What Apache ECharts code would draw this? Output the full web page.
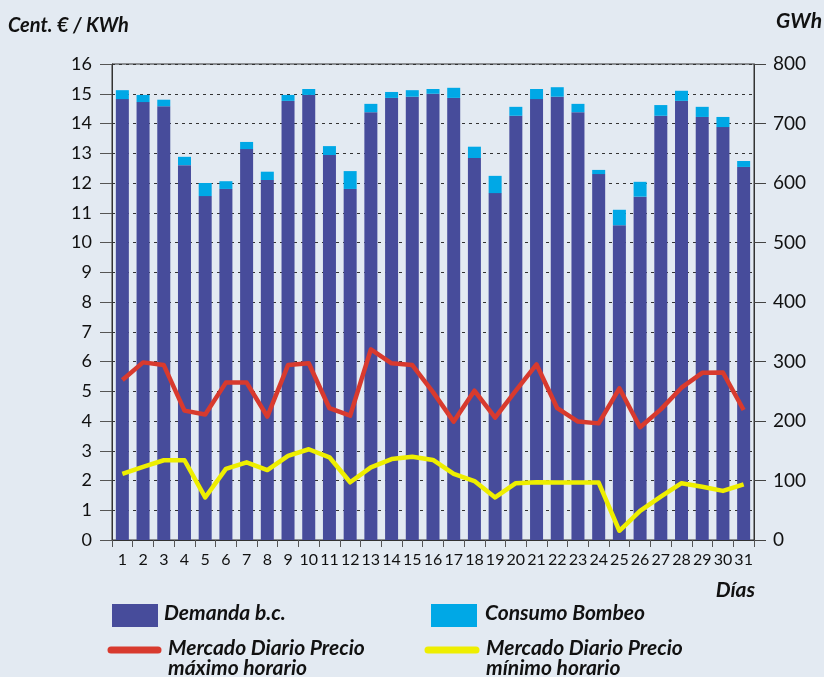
<!DOCTYPE html>
<html>
<head>
<meta charset="utf-8">
<script src="https://cdn.jsdelivr.net/npm/echarts@6/dist/echarts.min.js"></script>
<style>
html,body{margin:0;padding:0;background:#e3eaf2;}
#c{width:824px;height:677px;}
</style>
</head>
<body>
<div id="c"></div>
<script>
const days = ['1','2','3','4','5','6','7','8','9','10','11','12','13','14','15','16','17','18','19','20','21','22','23','24','25','26','27','28','29','30','31'];
const demanda = [741,736,729,630,578,590,657,605,738,748,647,590,719,743,745,750,743,642,583,713,741,745,719,615,529,577,713,738,711,694,627];
const bombeo = [15,12,11,14,22,13,12,14,10,10,15,30,14,10,11,8,17,19,29,15,17,16,14,7,26,25,18,17,17,17,10];
const precioMax = [5.38,5.97,5.88,4.35,4.22,5.29,5.29,4.15,5.88,5.94,4.43,4.18,6.41,5.94,5.88,4.97,3.98,5.02,4.11,5.02,5.90,4.43,3.98,3.92,5.10,3.79,4.39,5.12,5.62,5.63,4.37];
const precioMin = [2.22,2.46,2.68,2.68,1.43,2.39,2.61,2.35,2.83,3.05,2.78,1.94,2.44,2.72,2.80,2.69,2.22,1.98,1.43,1.91,1.94,1.93,1.93,1.93,0.31,0.98,1.46,1.91,1.79,1.65,1.87];
const leftTicks = [0,1,2,3,4,5,6,7,8,9,10,11,12,13,14,15,16];
const rightTicks = [0,100,200,300,400,500,600,700,800];

const FONT = 'Lato, "Open Sans", sans-serif';
const C_DEM = '#474c9b', C_BOM = '#00a8e6', C_MAX = '#d83a2e', C_MIN = '#eeee00';
const chart = echarts.init(document.getElementById('c'));
const legTxt = {fontFamily: FONT, fontWeight: 'bold', fontStyle: 'italic', fontSize: 21, fill: '#111'};
chart.setOption({
  backgroundColor: '#e3eaf2',
  animation: false,
  grid: {left: 112, right: 70, top: 64, bottom: 137, show: true, borderColor: '#333', borderWidth: 1, backgroundColor: 'transparent'},
  xAxis: {
    type: 'category', data: days, boundaryGap: true,
    axisLine: {lineStyle: {color: '#333'}},
    axisTick: {show: true, length: 7, lineStyle: {color: '#555'}},
    axisLabel: {fontFamily: FONT, fontSize: 16, color: '#111', margin: 12, interval: 0}
  },
  yAxis: [
    {type: 'value', min: 0, max: 16, interval: 1, position: 'left',
     axisLine: {show: true, lineStyle: {color: '#333'}},
     axisTick: {show: true, length: 12, lineStyle: {color: '#555'}},
     axisLabel: {fontFamily: FONT, fontSize: 18, color: '#111', margin: 20,
       formatter: v => leftTicks.includes(v) ? String(v) : ''},
     splitLine: {show: true, lineStyle: {color: '#333', type: [3, 4], width: 1}}},
    {type: 'value', min: 0, max: 800, interval: 100, position: 'right',
     axisLine: {show: true, lineStyle: {color: '#333'}},
     axisTick: {show: true, length: 12, lineStyle: {color: '#444'}},
     axisLabel: {fontFamily: FONT, fontSize: 19, color: '#111', margin: 19,
       formatter: v => rightTicks.includes(v) ? String(v) : ''},
     splitLine: {show: false}}
  ],
  series: [
    {name: 'Demanda b.c.', type: 'bar', stack: 'e', yAxisIndex: 1, data: demanda, barWidth: 13, itemStyle: {color: C_DEM}},
    {name: 'Consumo Bombeo', type: 'bar', stack: 'e', yAxisIndex: 1, data: bombeo, barWidth: 13, itemStyle: {color: C_BOM}},
    {name: 'Mercado Diario Precio máximo horario', type: 'line', yAxisIndex: 0, data: precioMax, symbol: 'none', z: 5,
     lineStyle: {color: C_MAX, width: 4.5, join: 'round'}},
    {name: 'Mercado Diario Precio mínimo horario', type: 'line', yAxisIndex: 0, data: precioMin, symbol: 'none', z: 5,
     lineStyle: {color: C_MIN, width: 4.5, join: 'round'}}
  ],
  graphic: [
    {type: 'text', left: 8, top: 16, style: Object.assign({}, legTxt, {text: 'Cent. € / KWh', fontSize: 20})},
    {type: 'text', right: 2, top: 11, style: Object.assign({}, legTxt, {text: 'GWh', fontSize: 21})},
    {type: 'text', right: 69, top: 580, style: Object.assign({}, legTxt, {text: 'Días', fontSize: 21})},
    {type: 'rect', shape: {x: 112, y: 604, width: 46, height: 23}, style: {fill: C_DEM}},
    {type: 'text', left: 164, top: 603, style: Object.assign({}, legTxt, {text: 'Demanda b.c.'})},
    {type: 'rect', shape: {x: 431, y: 604, width: 46, height: 23}, style: {fill: C_BOM}},
    {type: 'text', left: 485, top: 603, style: Object.assign({}, legTxt, {text: 'Consumo Bombeo'})},
    {type: 'line', shape: {x1: 111, y1: 650, x2: 158, y2: 650}, style: {stroke: C_MAX, lineWidth: 7, lineCap: 'round'}},
    {type: 'text', left: 168, top: 638, style: Object.assign({}, legTxt, {text: 'Mercado Diario Precio\nmáximo horario', lineHeight: 20})},
    {type: 'line', shape: {x1: 428, y1: 650, x2: 476, y2: 650}, style: {stroke: C_MIN, lineWidth: 7, lineCap: 'round'}},
    {type: 'text', left: 486, top: 638, style: Object.assign({}, legTxt, {text: 'Mercado Diario Precio\nmínimo horario', lineHeight: 20})}
  ]
});
</script>
</body>
</html>
